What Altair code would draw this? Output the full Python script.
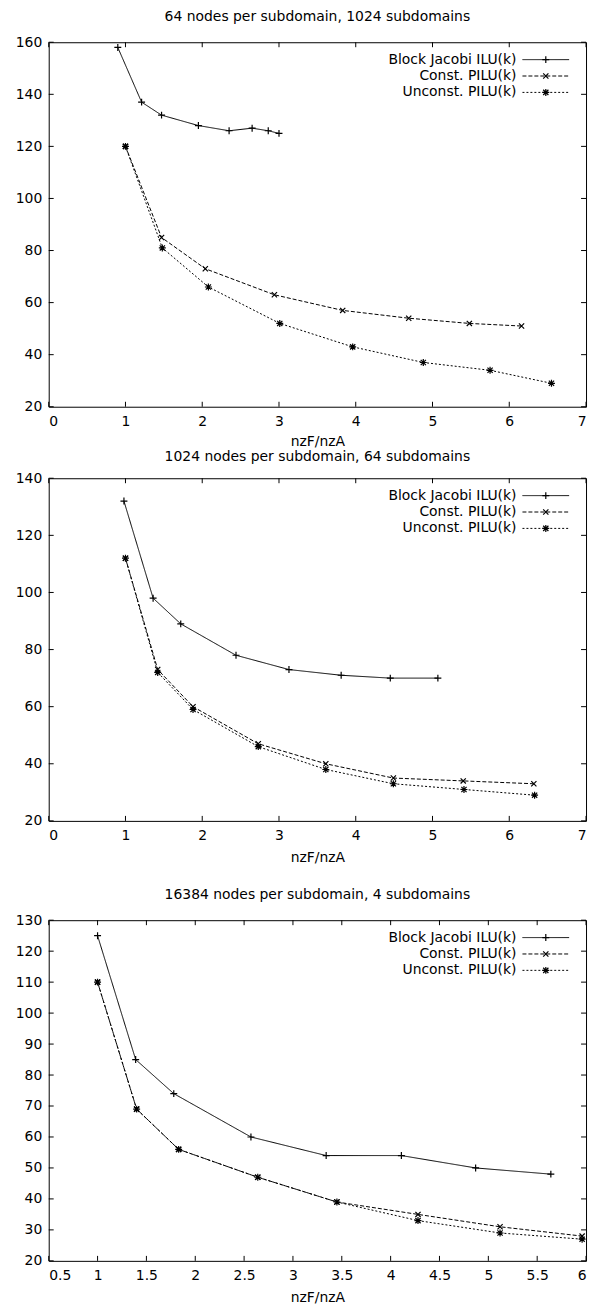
import altair as alt
import pandas as pd

FONT = "DejaVu Sans"
FS = 14

series_names = ["Block Jacobi ILU(k)", "Const. PILU(k)", "Unconst. PILU(k)"]

# Panel 1: 64 nodes per subdomain, 1024 subdomains
title1 = "64 nodes per subdomain, 1024 subdomains"
bj1_x = [0.90, 1.21, 1.47, 1.95, 2.35, 2.65, 2.86, 3.00]
bj1_y = [158, 137, 132, 128, 126, 127, 126, 125]
c1_x = [1.00, 1.47, 2.04, 2.94, 3.83, 4.69, 5.48, 6.16]
c1_y = [120, 85, 73, 63, 57, 54, 52, 51]
u1_x = [1.00, 1.48, 2.08, 3.01, 3.96, 4.88, 5.75, 6.55]
u1_y = [120, 81, 66, 52, 43, 37, 34, 29]
x1_ticks = [0, 1, 2, 3, 4, 5, 6, 7]
y1_ticks = [20, 40, 60, 80, 100, 120, 140, 160]

# Panel 2: 1024 nodes per subdomain, 64 subdomains
title2 = "1024 nodes per subdomain, 64 subdomains"
bj2_x = [0.98, 1.36, 1.72, 2.44, 3.13, 3.81, 4.45, 5.07]
bj2_y = [132, 98, 89, 78, 73, 71, 70, 70]
c2_x = [1.00, 1.42, 1.88, 2.73, 3.61, 4.49, 5.40, 6.32]
c2_y = [112, 73, 60, 47, 40, 35, 34, 33]
u2_x = [1.00, 1.42, 1.88, 2.73, 3.61, 4.49, 5.41, 6.33]
u2_y = [112, 72, 59, 46, 38, 33, 31, 29]
x2_ticks = [0, 1, 2, 3, 4, 5, 6, 7]
y2_ticks = [20, 40, 60, 80, 100, 120, 140]

# Panel 3: 16384 nodes per subdomain, 4 subdomains
title3 = "16384 nodes per subdomain, 4 subdomains"
bj3_x = [1.00, 1.39, 1.78, 2.57, 3.34, 4.11, 4.87, 5.64]
bj3_y = [125, 85, 74, 60, 54, 54, 50, 48]
c3_x = [1.00, 1.40, 1.83, 2.64, 3.45, 4.28, 5.12, 5.96]
c3_y = [110, 69, 56, 47, 39, 35, 31, 28]
u3_x = [1.00, 1.40, 1.83, 2.64, 3.45, 4.28, 5.12, 5.96]
u3_y = [110, 69, 56, 47, 39, 33, 29, 27]
x3_ticks = [0.5, 1, 1.5, 2, 2.5, 3, 3.5, 4, 4.5, 5, 5.5, 6]
y3_ticks = [20, 30, 40, 50, 60, 70, 80, 90, 100, 110, 120, 130]

PLUS = "M-1,0L1,0M0,-1L0,1"
CROSS = "M-0.75,-0.75L0.75,0.75M-0.75,0.75L0.75,-0.75"
STAR = PLUS + CROSS
shapes = [PLUS, CROSS, STAR]
dashes = [[1, 0], [4, 2], [2, 2]]

W = 541
TICK = 5
MSIZE = 49


def panel(title, xs_list, ys_list, xdom, ydom, xticks, yticks, H, toff, xtpad):
    rows = []
    for name, xs, ys in zip(series_names, xs_list, ys_list):
        for i, (x, y) in enumerate(zip(xs, ys)):
            rows.append(dict(series=name, x=x, y=y, idx=i))
    df = pd.DataFrame(rows)
    xsc = alt.Scale(domain=xdom, nice=False, zero=False)
    ysc = alt.Scale(domain=ydom, nice=False, zero=False)
    X = alt.X("x:Q", scale=xsc,
              axis=alt.Axis(values=xticks, title="nzF/nzA", titlePadding=xtpad,
                            labelExpr="'' + datum.value"))
    Y = alt.Y("y:Q", scale=ysc, axis=alt.Axis(values=yticks, title=None))

    base = alt.Chart(df)
    lines = base.mark_line(color="black", strokeWidth=1).encode(
        X, Y, order="idx:Q",
        strokeDash=alt.StrokeDash("series:N", scale=alt.Scale(domain=series_names, range=dashes), legend=None),
    )
    points = base.mark_point(color="black", filled=False, strokeWidth=1.2, size=MSIZE, opacity=1).encode(
        X, Y,
        shape=alt.Shape("series:N", scale=alt.Scale(domain=series_names, range=shapes), legend=None),
    )

    xt = alt.Chart(pd.DataFrame({"x": xticks}))
    yt = alt.Chart(pd.DataFrame({"y": yticks}))
    tick_b = xt.mark_rule(color="black", strokeWidth=1).encode(X, y=alt.value(H), y2=alt.value(H - TICK))
    tick_t = xt.mark_rule(color="black", strokeWidth=1).encode(X, y=alt.value(0), y2=alt.value(TICK))
    tick_l = yt.mark_rule(color="black", strokeWidth=1).encode(Y, x=alt.value(0), x2=alt.value(TICK))
    tick_r = yt.mark_rule(color="black", strokeWidth=1).encode(Y, x=alt.value(W), x2=alt.value(W - TICK))

    leg_layers = []
    leg_df = pd.DataFrame({"series": series_names})
    for i, name in enumerate(series_names):
        ry = 17.5 + 16.5 * i
        lc = alt.Chart(leg_df).transform_filter(alt.datum.series == name)
        leg_layers.append(
            lc.mark_text(align="right", baseline="middle", font=FONT, fontSize=FS, color="black").encode(
                x=alt.value(471), y=alt.value(ry), text="series:N")
        )
        leg_layers.append(
            lc.mark_rule(color="black", strokeWidth=1, strokeDash=dashes[i]).encode(
                x=alt.value(477), x2=alt.value(524), y=alt.value(ry))
        )
        leg_layers.append(
            lc.mark_point(color="black", filled=False, strokeWidth=1.2, size=MSIZE, opacity=1, shape=shapes[i]).encode(
                x=alt.value(500.5), y=alt.value(ry))
        )

    return alt.layer(lines, points, tick_b, tick_t, tick_l, tick_r, *leg_layers).properties(
        width=W, height=H,
        title=alt.TitleParams(title, offset=toff),
    )


p1 = panel(title1, [bj1_x, c1_x, u1_x], [bj1_y, c1_y, u1_y], [0, 7], [20, 160], x1_ticks, y1_ticks, 367, 11, 6)
p2 = panel(title2, [bj2_x, c2_x, u2_x], [bj2_y, c2_y, u2_y], [0, 7], [20, 140], x2_ticks, y2_ticks, 345, 7, 8)
p3 = panel(title3, [bj3_x, c3_x, u3_x], [bj3_y, c3_y, u3_y], [0.5, 6], [20, 130], x3_ticks, y3_ticks, 343, 11, 8)

chart = alt.vconcat(alt.vconcat(p1, p2, spacing=0), p3, spacing=22).properties(
    padding={"left": 0, "top": -3, "right": 0, "bottom": 0}
).configure_view(
    stroke="black", strokeWidth=1
).configure_axis(
    domain=False, grid=False, ticks=False, tickSize=0,
    labelFont=FONT, labelFontSize=FS, labelColor="black",
    titleFont=FONT, titleFontSize=FS, titleFontWeight="normal", titleColor="black",
).configure_axisY(
    labelPadding=7, minExtent=40, maxExtent=40
).configure_axisX(
    labelPadding=8
).configure_title(
    font=FONT, fontSize=FS, fontWeight="normal", color="black", anchor="middle"
)

chart.save("out.html", embed_options={"renderer": "svg", "actions": False})
